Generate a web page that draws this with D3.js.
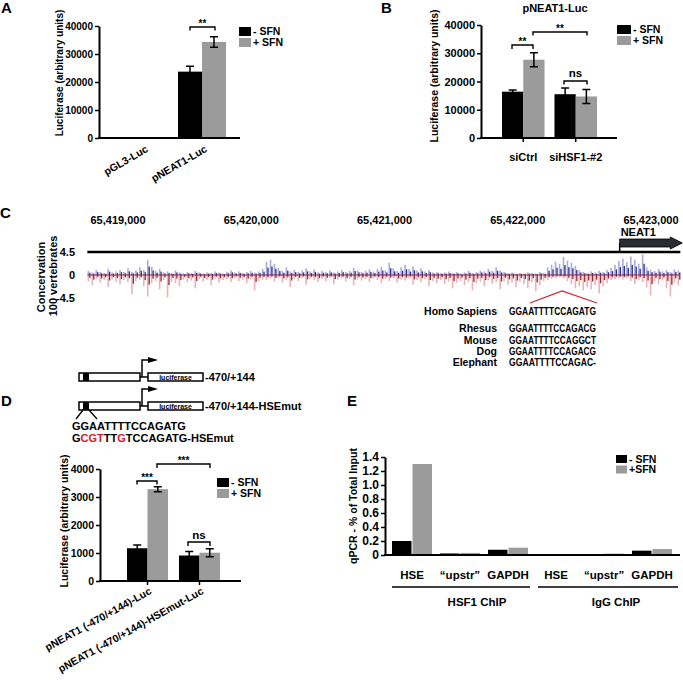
<!DOCTYPE html>
<html><head><meta charset="utf-8">
<script src="https://cdn.jsdelivr.net/npm/d3@7"></script>
<style>
body{margin:0;background:#fff;}
svg{display:block;font-family:"Liberation Sans",Arial,Helvetica,sans-serif;}
text{font-weight:bold;fill:#000;}
</style></head><body>
<svg id="fig" width="683" height="680"></svg>
<script>
// ---------- DATA ----------
const legendLabels = ["- SFN", "+ SFN"];
const legendLabelsE = ["- SFN", "+SFN"];

// Panel A
const aCategories = ["pGL3-Luc", "pNEAT1-Luc"];
const aMinusSFN = [300, 23700];
const aPlusSFN = [100, 34300];
const aMinusErr = [0, 1950];
const aPlusErr = [0, 1900];
const aTicks = [0, 10000, 20000, 30000, 40000];

// Panel B
const bTitle = "pNEAT1-Luc";
const bCategories = ["siCtrl", "siHSF1-#2"];
const bMinusSFN = [16400, 15500];
const bPlusSFN = [27700, 14700];
const bMinusErr = [600, 2200];
const bPlusErr = [2500, 2500];
const bTicks = [0, 10000, 20000, 30000, 40000];

// Panel C
const genomicTicks = [65419000, 65420000, 65421000, 65422000, 65423000];
const trackExtent = [65418770, 65423220];
const neat1Start = 65422765;
const geneName = "NEAT1";
const consTicks = [4.5, 0, -4.5];
const consPositive = [
 0.8,0.5,1.0,0.6,0.4,1.2,0.5,0.7,1.0,0.6,
 1.3,0.6,0.9,1.5,1.0,3.0,1.6,0.8,1.2,0.5,
 0.7,0.4,0.9,0.5,0.3,0.6,0.4,0.8,0.5,0.3,
 0.5,0.4,0.7,0.5,0.3,0.6,0.9,0.5,0.7,0.4,
 0.6,0.8,0.5,0.7,1.2,2.6,3.0,2.2,1.4,0.8,
 1.5,0.7,1.0,0.6,0.9,1.3,0.7,1.1,0.5,0.8,
 0.6,0.9,0.5,0.7,1.0,0.6,0.8,1.4,0.9,0.6,
 0.8,1.1,0.7,1.2,1.6,0.9,2.4,1.3,0.8,1.5,
 2.0,1.2,1.7,0.9,1.3,0.7,1.0,0.5,0.6,0.4,
 0.5,0.7,0.4,0.6,0.3,0.5,0.8,0.4,0.6,0.9,
 0.7,1.2,0.8,1.5,0.9,0.6,0.4,0.5,0.3,0.4,
 0.3,0.5,0.4,0.3,0.6,0.4,1.5,2.0,2.6,2.2,
 3.5,2.8,2.4,1.8,0.9,0.6,0.4,0.7,0.5,0.8,
 0.6,1.0,1.4,2.0,2.8,3.2,2.5,3.6,3.0,2.2,
 4.0,1.5,1.0,0.8,1.2,0.7,1.0,0.6,1.1,0.9];
const consNegative = [
 1.2,2.0,0.8,1.5,1.0,2.4,0.9,1.3,1.8,1.0,
 1.4,3.8,1.2,1.0,2.2,4.2,1.6,1.2,2.8,1.0,
 4.4,1.3,1.6,2.2,0.9,1.4,1.1,2.6,0.8,1.3,
 0.9,2.0,0.7,1.5,1.0,0.8,1.4,0.6,1.2,0.9,
 1.6,0.8,3.0,1.2,0.9,1.0,0.7,1.3,0.6,1.5,
 1.0,2.4,0.8,1.2,0.6,1.9,0.8,1.0,1.4,0.7,
 1.2,0.6,1.8,0.9,0.7,1.3,0.8,2.0,0.9,1.1,
 0.8,1.4,0.7,1.0,1.6,0.8,1.2,0.6,1.5,0.9,
 1.1,0.7,1.9,1.0,1.4,0.8,2.2,1.2,1.6,1.0,
 1.8,1.3,2.6,1.5,1.2,2.0,1.4,3.0,1.6,1.3,
 2.2,1.0,1.7,1.4,2.8,1.2,1.9,1.5,2.4,1.3,
 1.8,2.5,1.4,3.2,2.0,1.2,1.0,0.8,0.6,0.5,
 0.7,1.2,1.8,2.6,2.2,3.0,2.4,2.8,2.0,3.6,
 2.2,1.6,1.0,0.8,0.7,0.9,0.6,1.2,1.8,1.0,
 1.4,2.4,4.0,1.3,1.8,1.1,2.6,4.2,1.5,2.0];
const homologySpecies = ["Homo Sapiens", "Rhesus", "Mouse", "Dog", "Elephant"];
const homologySeqs = ["GGAATTTTCCAGATG", "GGAATTTTCCAGACG", "GGAATTTTCCAGGCT", "GGAATTTTCCAGACG", "GGAATTTTCCAGAC-"];

// Panel D
const constructLabels = ["-470/+144", "-470/+144-HSEmut"];
const wtSeq = "GGAATTTTCCAGATG";
const mutSeqParts = [["G", false], ["CGT", true], ["TT", false], ["G", true], ["TCCAGATG-HSEmut", false]];
const dCategories = ["pNEAT1 (-470/+144)-Luc", "pNEAT1 (-470/+144)-HSEmut-Luc"];
const dMinusSFN = [1170, 910];
const dPlusSFN = [3280, 1010];
const dMinusErr = [120, 140];
const dPlusErr = [90, 140];
const dTicks = [0, 1000, 2000, 3000, 4000];

// Panel E
const eCategories = ["HSE", "\u201Cupstr\u201D", "GAPDH", "HSE", "\u201Cupstr\u201D", "GAPDH"];
const eMinusSFN = [0.20, 0.022, 0.075, 0.012, 0.010, 0.062];
const ePlusSFN = [1.30, 0.030, 0.104, 0.004, 0.020, 0.085];
const eGroups = ["HSF1 ChIP", "IgG ChIP"];
const eTicks = [0, 0.2, 0.4, 0.6, 0.8, 1.0, 1.2, 1.4];

// ---------- DRAWING ----------
const colors = ["#000000", "#9b9b9b"];
const svg = d3.select("#fig");
svg.append("rect").attr("width", 683).attr("height", 680).attr("fill", "#fff");

function txt(g, x, y, s, fs, anchor) {
  return g.append("text").attr("x", x).attr("y", y).attr("font-size", fs)
    .attr("text-anchor", anchor || "start").text(s);
}
function panelLabel(t, x, y) { txt(svg, x, y, t, 15); }

function bracket(x1, x2, yb, tail, label, ly, fs) {
  svg.append("path").attr("d", `M${x1},${yb + tail}V${yb}H${x2}V${yb + tail}`)
    .attr("fill", "none").attr("stroke", "#000").attr("stroke-width", 1.4);
  txt(svg, (x1 + x2) / 2, ly, label, fs, "middle");
}

function legend(x, y, labels, sw, sh, gap, fs) {
  labels.forEach((l, i) => {
    svg.append("rect").attr("x", x).attr("y", y + i * (sh + gap)).attr("width", sw).attr("height", sh).attr("fill", colors[i]);
    txt(svg, x + sw + 2, y + i * (sh + gap) + sh / 2, l, fs).attr("dy", "0.36em");
  });
}

function barPanel(cfg) {
  const g = svg.append("g");
  const y = d3.scaleLinear().domain(cfg.yDomain).range(cfg.yRange);
  const x0 = d3.scaleBand().domain(d3.range(cfg.cats.length)).range(cfg.bandRange).paddingInner(cfg.padInner);
  const x1 = d3.scaleBand().domain([0, 1]).range([0, x0.bandwidth()]).paddingInner(cfg.barGap || 0);
  cfg.series.forEach((vals, s) => {
    g.selectAll(null).data(vals).enter().append("rect")
      .attr("x", (d, i) => x0(i) + x1(s)).attr("width", x1.bandwidth())
      .attr("y", d => y(d)).attr("height", d => y(0) - y(d)).attr("fill", colors[s]);
  });
  if (cfg.errs) {
    cfg.errs.forEach((errs, s) => errs.forEach((e, i) => {
      if (!e) return;
      const cx = x0(i) + x1(s) + x1.bandwidth() / 2, v = cfg.series[s][i], w = 4;
      g.append("path").attr("d", `M${cx},${y(v - e)}V${y(v + e)}M${cx - w},${y(v + e)}H${cx + w}M${cx - w},${y(v - e)}H${cx + w}`)
        .attr("stroke", "#000").attr("stroke-width", 1.5).attr("fill", "none");
    }));
  }
  const ya = g.append("g").attr("transform", `translate(${cfg.axisX},0)`)
    .call(d3.axisLeft(y).tickValues(cfg.ticks).tickFormat(cfg.fmt).tickSize(4).tickSizeOuter(0).tickPadding(2));
  ya.attr("font-family", null).attr("font-size", cfg.tickFont);
  ya.select(".domain").attr("stroke-width", 2);
  ya.selectAll(".tick line").attr("stroke-width", 1.5);
  ya.selectAll(".tick text").attr("font-weight", "bold");
  g.append("line").attr("x1", cfg.axisX - 1).attr("x2", cfg.axisEnd).attr("y1", y(0)).attr("y2", y(0))
    .attr("stroke", "#000").attr("stroke-width", 2);
  const xa = g.append("g").attr("transform", `translate(0,${y(0)})`)
    .call(d3.axisBottom(x0).tickFormat(i => cfg.cats[i]).tickSize(cfg.xTick).tickSizeOuter(0));
  xa.select(".domain").remove();
  xa.attr("font-family", null).attr("font-size", cfg.catFont);
  xa.selectAll(".tick line").attr("stroke-width", 1.5);
  xa.selectAll(".tick text").attr("font-weight", "bold");
  if (cfg.rotate) {
    xa.selectAll(".tick text").attr("x", 0).attr("y", 0).attr("dy", "0.35em")
      .attr("transform", `translate(${cfg.labOff[0]},${cfg.labOff[1]}) rotate(${cfg.rotate})`)
      .attr("text-anchor", "end");
  } else {
    xa.selectAll(".tick text").attr("y", cfg.labY).attr("dy", 0);
  }
  svg.append("text").attr("transform", `translate(${cfg.titleX},${cfg.titleY}) rotate(-90)`)
    .attr("text-anchor", "middle").attr("font-size", cfg.titleFont).text(cfg.title);
  return { x0, x1, y, g };
}

// ---- Panel A ----
panelLabel("A", 1, 13);
barPanel({
  cats: aCategories, series: [aMinusSFN, aPlusSFN], errs: [aMinusErr, aPlusErr],
  yDomain: [0, 40000], yRange: [138, 26], ticks: aTicks, fmt: d3.format("d"),
  axisX: 99, axisEnd: 240, bandRange: [119, 226], padInner: 0.1864,
  tickFont: 10, catFont: 10.5, xTick: 0, rotate: -30, labOff: [4, 10],
  title: "Luciferase (arbitrary units)", titleX: 63, titleY: 73, titleFont: 10
});
bracket(190, 215, 27, 3.5, "**", 27, 10);
legend(239, 27, legendLabels, 12, 9, 2, 10.5);

// ---- Panel B ----
panelLabel("B", 381, 13);
txt(svg, 555, 12, bTitle, 11, "middle");
barPanel({
  cats: bCategories, series: [bMinusSFN, bPlusSFN], errs: [bMinusErr, bPlusErr],
  yDomain: [0, 40000], yRange: [138, 25], ticks: bTicks, fmt: d3.format("d"),
  axisX: 481, axisEnd: 617, bandRange: [502, 597], padInner: 0.19,
  tickFont: 11, catFont: 11, xTick: 4, rotate: 0, labY: 23,
  title: "Luciferase (arbitrary units)", titleX: 438, titleY: 76, titleFont: 10.5
});
bracket(512, 533, 45, 4, "**", 45, 10);
bracket(533, 587, 32, 3.5, "**", 32, 10);
bracket(564, 587, 81, 3.5, "ns", 77, 11.5);
legend(617, 25, legendLabels, 14, 9, 2, 10.5);

// ---- Panel C ----
panelLabel("C", 0, 218);
const gx = d3.scaleLinear().domain([genomicTicks[0], genomicTicks[genomicTicks.length - 1]]).range([118, 651]);
genomicTicks.forEach(t => txt(svg, gx(t), 224, d3.format(",")(t), 11, "middle"));
const cy = d3.scaleLinear().domain([-4.5, 4.5]).range([298, 252]);
svg.append("line").attr("x1", gx(trackExtent[0])).attr("x2", gx(trackExtent[1]))
  .attr("y1", cy(4.5)).attr("y2", cy(4.5)).attr("stroke", "#000").attr("stroke-width", 2.5);
const nx = gx(neat1Start);
svg.append("line").attr("x1", nx).attr("x2", nx).attr("y1", cy(4.5)).attr("y2", 243).attr("stroke", "#000").attr("stroke-width", 1.5);
svg.append("path").attr("d", `M${nx},239H${gx(trackExtent[1]) - 10}V237L${gx(trackExtent[1]) + 2},243L${gx(trackExtent[1]) - 10},249V247H${nx}Z`)
  .attr("fill", "#2b2b33").attr("stroke", "#000").attr("stroke-width", 0.8);
txt(svg, nx + 1, 236, geneName, 11);
consTicks.forEach(t => txt(svg, 75, cy(t), t === 0 ? "0" : String(t), 11, "end").attr("dy", "0.36em"));
svg.append("text").attr("transform", "translate(45,277) rotate(-90)").attr("text-anchor", "middle").attr("font-size", 11).text("Concervation");
svg.append("text").attr("transform", "translate(57,276) rotate(-90)").attr("text-anchor", "middle").attr("font-size", 11).text("100 vertebrates");
const cx = d3.scaleLinear().domain([0, consPositive.length - 1]).range([gx(trackExtent[0]) + 1, gx(trackExtent[1]) - 2]);
const consG = svg.append("g");
consNegative.forEach((v, i) => {
  consG.append("rect").attr("x", cx(i) - 0.8).attr("width", 1.6).attr("y", cy(0)).attr("height", cy(-v) - cy(0)).attr("fill", "#e8b4b8");
  consG.append("rect").attr("x", cx(i) + 0.8).attr("width", 1.3).attr("y", cy(0)).attr("height", (cy(-v) - cy(0)) * 0.45).attr("fill", "#9a2228");
});
consPositive.forEach((v, i) => {
  consG.append("rect").attr("x", cx(i) - 0.8).attr("width", 1.6).attr("y", cy(v)).attr("height", cy(0) - cy(v)).attr("fill", "#aaaadc");
  consG.append("rect").attr("x", cx(i) + 0.8).attr("width", 1.3).attr("y", cy(v * 0.55)).attr("height", cy(0) - cy(v * 0.55)).attr("fill", "#2a2a96");
});
consG.append("line").attr("x1", cx(0) - 1).attr("x2", cx(consPositive.length - 1) + 1).attr("y1", cy(0)).attr("y2", cy(0))
  .attr("stroke", "#8a2040").attr("stroke-width", 1);
svg.append("path").attr("d", "M530,303L562,291L597,303").attr("fill", "none").attr("stroke", "#d4242a").attr("stroke-width", 1.3);
const homY = [315, 332, 344, 355, 366];
homologySpecies.forEach((s, i) => {
  txt(svg, 497, homY[i], s, 10.5, "end");
  svg.append("text").attr("x", 509).attr("y", homY[i]).attr("font-size", 10).attr("font-weight", "normal")
    .attr("textLength", 87).attr("lengthAdjust", "spacingAndGlyphs").text(homologySeqs[i]);
});

// ---- Panel D diagram ----
panelLabel("D", 1, 406);
[[373, 360], [402, 389]].forEach(([by, ay], k) => {
  const h = 8;
  svg.append("rect").attr("x", 79).attr("y", by).attr("width", 61).attr("height", h).attr("fill", "#fff").attr("stroke", "#000").attr("stroke-width", 1.5);
  svg.append("rect").attr("x", 83).attr("y", by).attr("width", 6).attr("height", h).attr("fill", "#000");
  svg.append("line").attr("x1", 140).attr("x2", 148).attr("y1", by + h / 2).attr("y2", by + h / 2).attr("stroke", "#000").attr("stroke-width", 1.5);
  svg.append("rect").attr("x", 148).attr("y", by).attr("width", 55).attr("height", h).attr("fill", "#fff").attr("stroke", "#000").attr("stroke-width", 1.5);
  svg.append("text").attr("x", 175.5).attr("y", by + 6.8).attr("text-anchor", "middle").attr("font-size", 7).attr("font-weight", "normal").text("luciferase");
  svg.append("path").attr("d", `M142,${by + h / 2}V${ay}H149`).attr("fill", "none").attr("stroke", "#000").attr("stroke-width", 1.5);
  svg.append("path").attr("d", `M148,${ay - 3}L158,${ay}L148,${ay + 3}Z`).attr("fill", "#000");
  txt(svg, 205, by + h / 2, constructLabels[k], 11).attr("dy", "0.36em");
});
svg.append("path").attr("d", "M83,410L76,419M89,410L97,419").attr("stroke", "#000").attr("stroke-width", 1.3).attr("fill", "none");
txt(svg, 72, 430, wtSeq, 11);
const mt = svg.append("text").attr("x", 72).attr("y", 442).attr("font-size", 11);
mutSeqParts.forEach(([s, red]) => mt.append("tspan").attr("fill", red ? "#d42027" : "#000").text(s));

// ---- Panel D chart ----
barPanel({
  cats: dCategories, series: [dMinusSFN, dPlusSFN], errs: [dMinusErr, dPlusErr],
  yDomain: [0, 4000], yRange: [581, 469], ticks: dTicks, fmt: d3.format("d"),
  axisX: 100, axisEnd: 241, bandRange: [127, 220], padInner: 0.21,
  tickFont: 10.5, catFont: 10.5, xTick: 4, rotate: -29, labOff: [3, 9],
  title: "Luciferase (arbitrary units)", titleX: 68, titleY: 521, titleFont: 10.5
});
bracket(137, 157, 481, 3.5, "***", 481, 10);
bracket(157, 210, 464, 4, "***", 464, 10);
bracket(188, 210, 542, 4, "ns", 539, 11.5);
legend(217, 478, legendLabels, 12, 9, 2, 10.5);

// ---- Panel E ----
panelLabel("E", 347, 406);
barPanel({
  cats: eCategories, series: [eMinusSFN, ePlusSFN], errs: null,
  yDomain: [0, 1.4], yRange: [555, 457], ticks: eTicks, fmt: d => d === 0 ? "0" : d3.format(".1f")(d),
  axisX: 385, axisEnd: 680, bandRange: [392, 672], padInner: 0.1667, barGap: 0.05,
  tickFont: 12, catFont: 11.5, xTick: 0, rotate: 0, labY: 24,
  title: "qPCR - % of Total Input", titleX: 357, titleY: 506, titleFont: 10.5
});
[[392, 530, 477], [538, 678, 616]].forEach(([a, b, tx], k) => {
  svg.append("line").attr("x1", a).attr("x2", b).attr("y1", 587).attr("y2", 587).attr("stroke", "#000").attr("stroke-width", 1.5);
  txt(svg, tx, 606, eGroups[k], 11.5, "middle");
});
legend(616, 455, legendLabelsE, 11, 8, 2.5, 10.5);
</script>
</body></html>
